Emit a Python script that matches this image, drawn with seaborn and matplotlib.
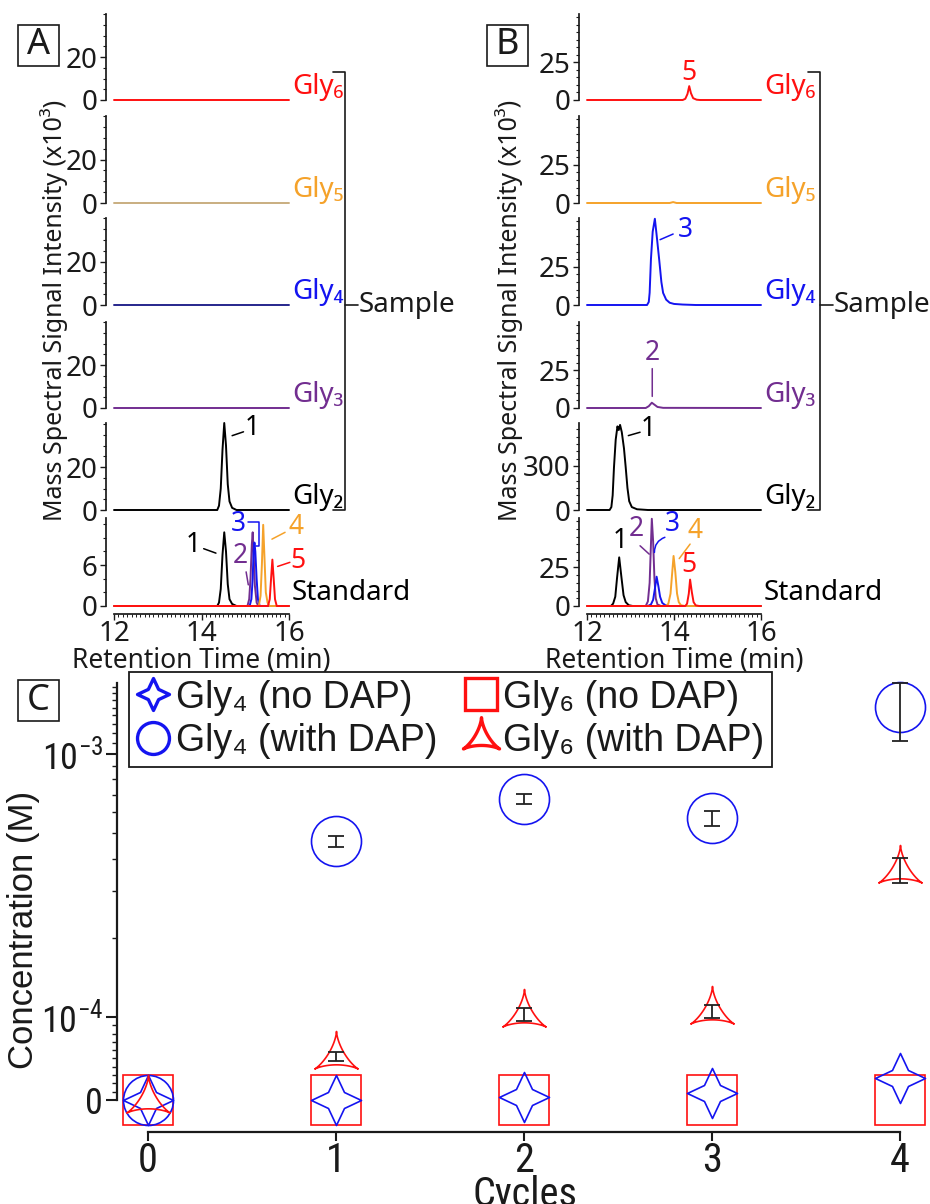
import numpy as np
import matplotlib
matplotlib.use("Agg")
import matplotlib.pyplot as plt
import seaborn as sns
from matplotlib import font_manager as fm
from matplotlib.font_manager import FontProperties
from matplotlib.path import Path
from matplotlib.lines import Line2D
from matplotlib.patches import Rectangle
from matplotlib.ticker import FixedLocator, MultipleLocator

sns.set_theme(style="ticks", rc={
    "axes.edgecolor": "k", "xtick.color": "k", "ytick.color": "k",
    "text.color": "k", "axes.labelcolor": "k",
})
plt.rcParams["font.family"] = ["Noto Sans", "DejaVu Sans"]
plt.rcParams["axes.unicode_minus"] = False

SANS = ["Liberation Sans", "DejaVu Sans"]


def condensed_font():
    """Pick an upright regular narrow/condensed face if one is installed."""
    prefs = ["liberation sans narrow", "roboto condensed", "dejavu sans condensed",
             "open sans condensed", "noto sans condensed", "arial narrow"]
    found = {}
    for f in fm.fontManager.ttflist:
        fname = f.fname.lower()
        base = fname.rsplit("/", 1)[-1]
        if any(w in base for w in ("bold", "italic", "oblique", "light", "thin", "black",
                                   "medium", "semi", "extra")):
            continue
        key = f.name.lower()
        if "narrow" in base or "condensed" in base:
            if "liberation" in base:
                key = "liberation sans narrow"
            elif "dejavu" in base:
                key = "dejavu sans condensed"
            elif "roboto" in base:
                key = "roboto condensed"
            elif "opensans" in base or "open" in base:
                key = "open sans condensed"
            elif "noto" in base:
                key = "noto sans condensed"
            found.setdefault(key, f.fname)
        elif f.stretch in ("condensed", "semi-condensed"):
            found.setdefault(key + " condensed", f.fname)
    for p in prefs:
        if p in found:
            return FontProperties(fname=found[p]), True
    if found:
        return FontProperties(fname=sorted(found.values())[0]), True
    return FontProperties(family=SANS), False


NARROW_FP, HAVE_NARROW = condensed_font()
BIG = 29 if HAVE_NARROW else 25
YBIG = 26 if HAVE_NARROW else 23

RED = "#FF1010"
ORANGE = "#F5A22A"
BLUE = "#1414F0"
PURPLE = "#722E90"
NAVY = "#26268C"
TAN = "#C9AE80"
BLACK = "#000000"

# ---------------- chromatogram traces (time in min, intensity x10^3) ----------------
flat_t = [12.0, 16.0]
flat_i = [0.0, 0.0]

# Panel A: Gly2 sample
a_gly2_t = [12.0, 14.36, 14.40, 14.44, 14.48, 14.52, 14.56, 14.60, 14.64, 14.70, 14.80, 16.0]
a_gly2_i = [0, 0, 2, 10, 28, 40.5, 30, 12, 4, 1, 0, 0]

# Panel A: standard mixture
a_std1_t = [12.0, 14.36, 14.40, 14.44, 14.48, 14.52, 14.56, 14.60, 14.64, 14.70, 14.80, 16.0]
a_std1_i = [0, 0, 0.5, 2.5, 7.5, 10.8, 8.0, 3.2, 1.0, 0.3, 0, 0]
a_std2_t = [12.0, 15.05, 15.09, 15.12, 15.15, 15.17, 15.19, 15.22, 15.26, 15.30, 16.0]
a_std2_i = [0, 0, 1, 4, 9, 10.8, 8, 3, 0.5, 0, 0]
a_std3_t = [12.0, 15.10, 15.14, 15.17, 15.19, 15.21, 15.23, 15.26, 15.29, 15.33, 16.0]
a_std3_i = [0, 0, 1, 4, 8, 9.3, 8, 4, 1, 0, 0]
a_std4_t = [12.0, 15.31, 15.35, 15.38, 15.41, 15.44, 15.47, 15.51, 15.55, 16.0]
a_std4_i = [0, 0, 1.5, 6, 11.9, 7, 2, 0.5, 0, 0]
a_std5_t = [12.0, 15.52, 15.56, 15.59, 15.62, 15.65, 15.68, 15.72, 16.0]
a_std5_i = [0, 0, 1, 4, 6.8, 4, 1, 0, 0]

# Panel B: samples
b_gly6_t = [12.0, 14.20, 14.26, 14.31, 14.35, 14.39, 14.44, 14.52, 14.60, 16.0]
b_gly6_i = [0, 0, 0.8, 4, 9.2, 4.5, 1.2, 0.2, 0, 0]
b_gly5_t = [12.0, 13.90, 13.98, 14.06, 16.0]
b_gly5_i = [0, 0, 0.6, 0, 0]
b_gly4_t = [12.0, 13.38, 13.42, 13.44, 13.47, 13.51, 13.56, 13.60, 13.66, 13.71, 13.75,
            13.82, 13.90, 14.00, 14.20, 14.50, 16.0]
b_gly4_i = [0, 0, 2, 8, 30, 48, 56.5, 46, 29.6, 15, 7.9, 3.5, 1.5, 0.7, 0.3, 0, 0]
b_gly3_t = [12.0, 13.35, 13.42, 13.49, 13.56, 13.62, 13.75, 16.0]
b_gly3_i = [0, 0, 1.2, 3.5, 2.0, 0.7, 0.1, 0]
b_gly2_t = [12.0, 12.52, 12.56, 12.59, 12.62, 12.66, 12.70, 12.73, 12.76, 12.80, 12.85,
            12.89, 12.93, 12.97, 13.03, 13.15, 13.40, 16.0]
b_gly2_i = [0, 0, 20, 100, 290, 480, 570, 545, 580, 530, 420, 290, 150, 60, 20, 5, 0, 0]

# Panel B: standard mixture
b_std1_t = [12.0, 12.55, 12.60, 12.65, 12.69, 12.74, 12.79, 12.84, 12.89, 12.96, 13.05, 16.0]
b_std1_i = [0, 0, 1.5, 6, 18, 31.5, 19, 7, 2.5, 0.5, 0, 0]
b_std2_t = [12.0, 13.35, 13.40, 13.44, 13.47, 13.49, 13.52, 13.55, 13.58, 13.62, 13.70, 16.0]
b_std2_i = [0, 0, 3, 15, 40, 56.5, 42, 18, 5, 1, 0, 0]
b_std3_t = [12.0, 13.40, 13.47, 13.52, 13.56, 13.60, 13.64, 13.68, 13.73, 13.80, 13.90, 16.0]
b_std3_i = [0, 0, 1, 4, 11, 19, 13, 6, 2, 0.5, 0, 0]
b_std4_t = [12.0, 13.82, 13.87, 13.92, 13.96, 13.99, 14.03, 14.07, 14.11, 14.16, 14.25, 16.0]
b_std4_i = [0, 0, 1.5, 8, 22, 32.4, 22, 8, 2.5, 0.5, 0, 0]
b_std5_t = [12.0, 14.26, 14.30, 14.34, 14.37, 14.41, 14.45, 14.50, 14.58, 16.0]
b_std5_i = [0, 0, 1.5, 8, 17.1, 9, 2.5, 0.4, 0, 0]

row_names = ["Gly\u2086", "Gly\u2085", "Gly\u2084", "Gly\u2083", "Gly\u2082", "Standard"]
row_label_colors = [RED, ORANGE, BLUE, PURPLE, BLACK, BLACK]

# ---------------- concentrations (M) vs cycles ----------------
cycles = np.array([0, 1, 2, 3, 4])
gly4_no_dap = np.array([0.0, 0.0, 3.6e-6, 8.4e-6, 2.65e-5])
gly4_dap = np.array([0.0, 4.67e-4, 6.74e-4, 5.71e-4, 1.51e-3])
gly4_dap_lo = np.array([np.nan, 4.43e-4, 6.45e-4, 5.32e-4, 1.12e-3])
gly4_dap_hi = np.array([np.nan, 4.88e-4, 7.05e-4, 6.07e-4, 1.86e-3])
gly6_no_dap = np.array([0.0, 0.0, 0.0, 0.0, 0.0])
gly6_dap = np.array([0.0, 5.3e-5, 1.03e-4, 1.05e-4, 3.62e-4])
gly6_dap_lo = np.array([np.nan, 4.7e-5, 0.95e-4, 0.99e-4, 3.23e-4])
gly6_dap_hi = np.array([np.nan, 5.8e-5, 1.08e-4, 1.11e-4, 4.02e-4])
legend_labels = ["Gly\u2084 (no DAP)", "Gly\u2084 (with DAP)",
                 "Gly\u2086 (no DAP)", "Gly\u2086 (with DAP)"]

# ---------------- figure ----------------
W, H = 930, 1204
fig = plt.figure(figsize=(W / 100, H / 100), dpi=100)


def px_axes(left, top, right, bottom):
    return fig.add_axes([left / W, 1 - bottom / H, (right - left) / W, (bottom - top) / H])


def fig_line(xs, ys, **kw):
    fig.add_artist(Line2D([x / W for x in xs], [1 - y / H for y in ys],
                          transform=fig.transFigure, color="k", lw=1.2, **kw))


def panel_box(x, y, letter):
    fig.add_artist(Rectangle((x / W, 1 - (y + 41) / H), 41 / W, 41 / H,
                             transform=fig.transFigure, fill=False, lw=1.2, ec="k"))
    fig.text((x + 20.5) / W, 1 - (y + 20.5) / H, letter, ha="center", va="center",
             fontsize=26)


row_tops = [14, 116, 218, 322, 423, 518]
row_zeros = [100, 203, 305, 408, 510, 606]


def stacked_panel(x_left, x_right, ymaxs, majors, minors, traces):
    axes = []
    for k in range(6):
        ax = px_axes(x_left, row_tops[k], x_right, row_zeros[k])
        ax.patch.set_alpha(0)
        for (t, i, c) in traces[k]:
            sns.lineplot(x=t, y=i, ax=ax, color=c, lw=1.4, sort=False,
                         estimator=None, legend=False, clip_on=False)
        ax.set_xlim(12, 16)
        ax.set_ylim(0, ymaxs[k])
        std = (k == 5)
        sns.despine(ax=ax, offset={"left": 6, "bottom": 6}, bottom=not std)
        ax.yaxis.set_major_locator(FixedLocator(majors[k]))
        ax.yaxis.set_minor_locator(MultipleLocator(minors[k]))
        ax.tick_params(axis="y", which="major", length=4, width=1, labelsize=20, pad=2)
        ax.tick_params(axis="y", which="minor", length=2, width=0.8)
        ax.set_xlabel("")
        ax.set_ylabel("")
        if std:
            ax.xaxis.set_major_locator(FixedLocator([12, 14, 16]))
            ax.xaxis.set_minor_locator(MultipleLocator(0.1))
            ax.tick_params(axis="x", which="major", length=4, width=1, labelsize=20, pad=0)
            ax.tick_params(axis="x", which="minor", length=2, width=0.7)
            ax.set_xlabel("Retention Time (min)", fontsize=19, labelpad=-1)
        else:
            ax.tick_params(axis="x", which="both", bottom=False, labelbottom=False)
        ax.annotate(row_names[k], xy=(1, 0), xycoords="axes fraction",
                    xytext=(3, 6), textcoords="offset pixels", ha="left", va="baseline",
                    fontsize=20, color=row_label_colors[k], annotation_clip=False)
        axes.append(ax)
    return axes


def leader(ax, start, end, color, rad=0.0):
    ax.annotate("", xy=end, xytext=start, annotation_clip=False,
                arrowprops=dict(arrowstyle="-", color=color, lw=1.1, shrinkA=0, shrinkB=0,
                                connectionstyle=f"arc3,rad={rad}"))


def num(ax, pos, text, color):
    ax.text(pos[0], pos[1], text, color=color, fontsize=19, ha="center", va="center",
            clip_on=False)


# ---------- Panel A ----------
a_traces = [
    [(flat_t, flat_i, RED)],
    [(flat_t, flat_i, TAN)],
    [(flat_t, flat_i, NAVY)],
    [(flat_t, flat_i, PURPLE)],
    [(a_gly2_t, a_gly2_i, BLACK)],
    [(a_std1_t, a_std1_i, BLACK), (a_std2_t, a_std2_i, PURPLE), (a_std3_t, a_std3_i, BLUE),
     (a_std4_t, a_std4_i, ORANGE), (a_std5_t, a_std5_i, RED)],
]
axA = stacked_panel(114, 289, [40, 40, 40, 40, 40.5, 12.9],
                    [[0, 20]] * 5 + [[0, 6]], [5, 5, 5, 5, 5, 2], a_traces)

ax = axA[4]
num(ax, (15.15, 38.1), "1", BLACK)
leader(ax, (14.70, 34.6), (14.96, 36.4), BLACK)
ax = axA[5]
num(ax, (13.81, 8.9), "1", BLACK)
leader(ax, (14.05, 8.4), (14.33, 7.75), BLACK)
num(ax, (14.88, 7.4), "2", PURPLE)
leader(ax, (15.02, 5.0), (15.07, 3.1), PURPLE)
num(ax, (14.85, 12.0), "3", BLUE)
ax.plot([15.06, 15.31, 15.31, 15.25], [12.3, 12.3, 8.8, 8.8], color=BLUE, lw=1.1,
        clip_on=False)
num(ax, (16.15, 11.6), "4", ORANGE)
leader(ax, (15.61, 9.8), (15.91, 10.8), ORANGE)
num(ax, (16.21, 6.6), "5", RED)
leader(ax, (15.74, 5.8), (16.02, 6.4), RED)

# ---------- Panel B ----------
b_traces = [
    [(b_gly6_t, b_gly6_i, RED)],
    [(b_gly5_t, b_gly5_i, ORANGE)],
    [(b_gly4_t, b_gly4_i, BLUE)],
    [(b_gly3_t, b_gly3_i, PURPLE)],
    [(b_gly2_t, b_gly2_i, BLACK)],
    [(b_std1_t, b_std1_i, BLACK), (b_std2_t, b_std2_i, PURPLE), (b_std3_t, b_std3_i, BLUE),
     (b_std4_t, b_std4_i, ORANGE), (b_std5_t, b_std5_i, RED)],
]
axB = stacked_panel(587, 761, [57, 57, 57, 57, 593, 57],
                    [[0, 25]] * 4 + [[0, 300], [0, 25]], [5, 5, 5, 5, 50, 5], b_traces)

num(axB[0], (14.35, 17.6), "5", RED)
num(axB[2], (14.25, 49.3), "3", BLUE)
leader(axB[2], (13.68, 42.8), (13.98, 46.5), BLUE)
num(axB[3], (13.50, 36.6), "2", PURPLE)
leader(axB[3], (13.50, 26.1), (13.50, 7.7), PURPLE)
num(axB[4], (13.41, 552), "1", BLACK)
leader(axB[4], (12.95, 507), (13.22, 530), BLACK)
ax = axB[5]
num(ax, (12.76, 42.3), "1", BLACK)
num(ax, (13.14, 50.0), "2", PURPLE)
leader(ax, (13.22, 39.0), (13.43, 33.6), PURPLE)
num(ax, (13.95, 53.3), "3", BLUE)
leader(ax, (13.79, 44.5), (13.55, 34.7), BLUE, rad=0.35)
num(ax, (14.48, 48.9), "4", ORANGE)
leader(ax, (14.37, 40.1), (14.12, 30.7), ORANGE)
num(ax, (14.35, 26.3), "5", RED)

# shared decorations for A and B
for (ylab_x, brk_x) in [(54, 345), (509, 820)]:
    fig.text(ylab_x / W, 1 - 310 / H, "Mass Spectral Signal Intensity (x10\u00b3)",
             rotation=90, ha="center", va="center", fontsize=18)
    fig_line([brk_x - 12, brk_x, brk_x, brk_x - 12], [72, 72, 510, 510])
    fig_line([brk_x, brk_x + 13], [305, 305])
    fig.text((brk_x + 14) / W, 1 - 305 / H, "Sample", ha="left", va="center", fontsize=20)

panel_box(18, 25, "A")
panel_box(487, 25, "B")
panel_box(18, 680, "C")

# ---------- Panel C ----------
axC = px_axes(117, 683, 930, 1132)
axC.patch.set_alpha(0)
axC.set_yscale("symlog", linthresh=1e-4, linscale=0.284, base=10)
axC.set_xlim(-0.165, 4.16)
axC.set_ylim(-0.386e-4, 1.86e-3)

t = np.linspace(0, 2 * np.pi, 121)
deltoid = np.column_stack([-(2 * np.sin(t) - np.sin(2 * t)), 2 * np.cos(t) + np.cos(2 * t)]) / 3.0
tri_marker = Path(deltoid, closed=True)
star_marker = Path([(0, 1), (0.32, 0.32), (1, 0), (0.32, -0.32), (0, -1), (-0.32, -0.32),
                    (-1, 0), (-0.32, 0.32), (0, 1)], closed=True)

MS = 36
series = [
    (gly6_no_dap, "s", RED, 1),
    (gly4_dap, "o", BLUE, 2),
    (gly4_no_dap, star_marker, BLUE, 3),
    (gly6_dap, tri_marker, RED, 4),
]
for vals, mk, col, z in series:
    axC.plot(cycles, vals, ls="none", marker=mk, ms=MS, mfc="none", mec=col, mew=1.2,
             clip_on=False, zorder=z)

for vals, lo, hi in [(gly4_dap, gly4_dap_lo, gly4_dap_hi), (gly6_dap, gly6_dap_lo, gly6_dap_hi)]:
    m = ~np.isnan(lo)
    axC.errorbar(cycles[m], vals[m], yerr=[vals[m] - lo[m], hi[m] - vals[m]], fmt="none",
                 ecolor="#222222", elinewidth=1.3, capsize=5.5, capthick=1.3, zorder=5,
                 clip_on=False)

sns.despine(ax=axC)
axC.spines["left"].set_bounds(0, 1.86e-3)
axC.spines["bottom"].set_bounds(0, 4)
axC.spines["left"].set_linewidth(1.6)
axC.spines["bottom"].set_linewidth(1.6)
axC.yaxis.set_major_locator(FixedLocator([0, 1e-4, 1e-3]))
axC.set_yticklabels(["0", r"$\mathregular{10^{-4}}$", r"$\mathregular{10^{-3}}$"])
minor = [k * 1e-5 for k in range(1, 10)] + [k * 1e-4 for k in range(2, 10)] + \
        [k * 1e-4 for k in range(11, 19)]
axC.yaxis.set_minor_locator(FixedLocator(minor))
axC.set_xticks(cycles)
axC.set_xticklabels([str(c) for c in cycles])
axC.tick_params(axis="y", which="major", length=8, width=1.5, pad=2)
axC.tick_params(axis="y", which="minor", length=3.5, width=1.0)
axC.tick_params(axis="x", which="major", length=6.5, width=1.5, pad=0)
for lab in axC.get_xticklabels():
    lab.set_fontproperties(NARROW_FP)
    lab.set_fontsize(BIG)
for lab in axC.get_yticklabels():
    lab.set_fontproperties(NARROW_FP)
    lab.set_fontsize(YBIG)
axC.set_ylabel("")
axC.set_xlabel("")
fig.text(24 / W, 1 - 930 / H, "Concentration (M)", rotation=90, ha="center", va="center",
         fontsize=25, family=SANS)
cyc = fig.text(525 / W, 1 - 1194 / H, "Cycles", ha="center", va="center")
cyc.set_fontproperties(NARROW_FP)
cyc.set_fontsize(BIG)

handles = [
    Line2D([], [], ls="none", marker=star_marker, ms=23, mfc="none", mec=BLUE, mew=2.4),
    Line2D([], [], ls="none", marker="o", ms=23, mfc="none", mec=BLUE, mew=2.4),
    Line2D([], [], ls="none", marker="s", ms=23, mfc="none", mec=RED, mew=2.4),
    Line2D([], [], ls="none", marker=tri_marker, ms=30, mfc="none", mec=RED, mew=2.4),
]
leg = axC.legend(handles, legend_labels, loc="upper left",
                 bbox_to_anchor=(129 / W, 1 - 672 / H), bbox_transform=fig.transFigure,
                 ncol=2, frameon=True, fancybox=False, edgecolor="k", framealpha=1,
                 borderpad=0.2, labelspacing=0.2, handlelength=0.9, handletextpad=0.15,
                 columnspacing=0.7, borderaxespad=0,
                 prop={"family": SANS, "size": 27})
leg.get_frame().set_linewidth(1.3)

fig.savefig("out.png", dpi=100)
